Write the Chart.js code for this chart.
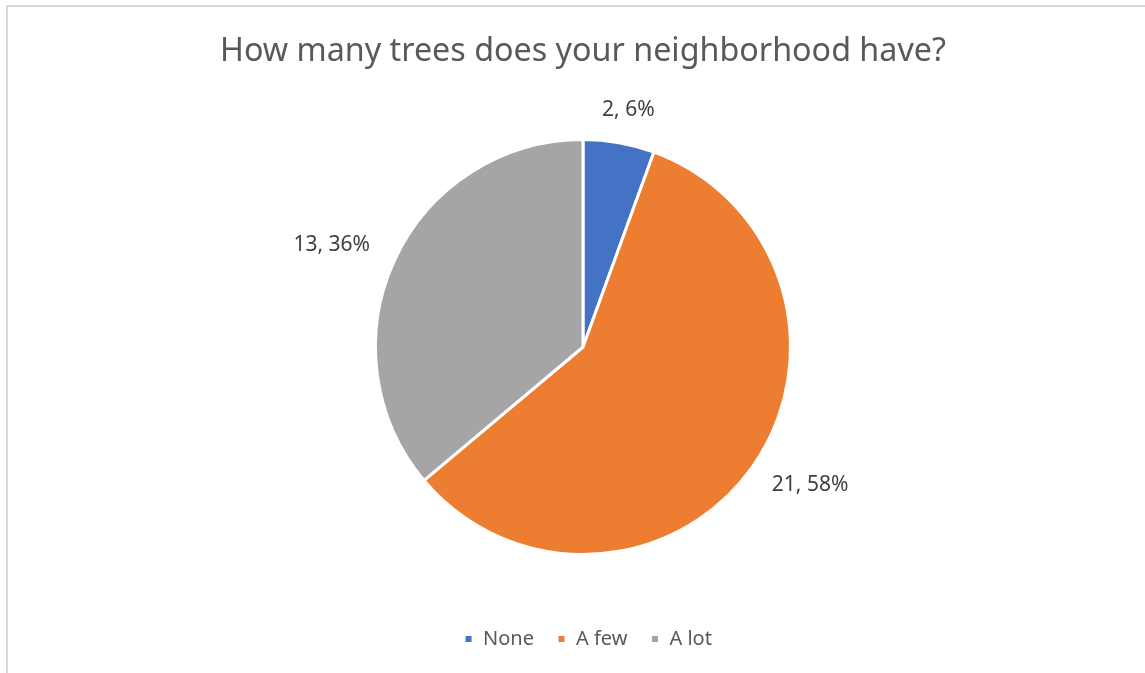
<!DOCTYPE html>
<html>
<head>
<meta charset="utf-8">
<script src="https://cdn.jsdelivr.net/npm/chart.js@4/dist/chart.umd.min.js"></script>
<style>
  html, body { margin: 0; padding: 0; background: #fff; overflow: hidden; }
  #frame { position: absolute; left: 6px; top: 5px; width: 1200px; height: 700px; border: 2px solid #d9d9d9; box-sizing: border-box; }
  #wrap { position: absolute; left: 0; top: 0; width: 1145px; height: 673px; }
</style>
</head>
<body>
<div id="frame"></div>
<div id="wrap"><canvas id="myChart"></canvas></div>
<script>
const categories = ['None', 'A few', 'A lot'];
const counts = [2, 21, 13];
const percentLabels = ['6%', '58%', '36%'];
const sliceColors = ['#4472C4', '#ED7D31', '#A5A5A5'];

// data labels outside the slices, like Excel's "best fit"
const outsideLabels = {
  id: 'outsideLabels',
  afterDatasetsDraw(chart) {
    const ctx = chart.ctx;
    const meta = chart.getDatasetMeta(0);
    ctx.save();
    ctx.font = '21px "Noto Sans"';
    ctx.fillStyle = '#404040';
    ctx.textAlign = 'center';
    ctx.textBaseline = 'middle';
    meta.data.forEach((arc, i) => {
      const p = arc.getProps(['x', 'y', 'startAngle', 'endAngle', 'outerRadius'], true);
      const mid = (p.startAngle + p.endAngle) / 2;
      const text = counts[i] + ', ' + percentLabels[i];
      const w = ctx.measureText(text).width;
      const h = 24;
      const cx = p.x + Math.cos(mid) * (p.outerRadius + 18 + 1.35 * w / 2);
      const cy = p.y + Math.sin(mid) * (p.outerRadius + 18 + 1.25 * h / 2);
      ctx.fillText(text, cx, cy);
    });
    ctx.restore();
  }
};

// legend sits a few px right of the pie centre in the original
const nudgeLegend = {
  id: 'nudgeLegend',
  afterLayout(chart) {
    chart.legend.left += 5;
    chart.legend.right += 5;
  }
};

var ctx = document.getElementById('myChart').getContext('2d');

var myChart = new Chart(ctx, {
  type: 'pie',
  data: {
    labels: categories,
    datasets: [{
      data: counts,
      backgroundColor: sliceColors,
      borderColor: '#ffffff',
      borderWidth: 3,
      hoverOffset: 0
    }]
  },
  options: {
    responsive: true,
    maintainAspectRatio: false,
    animation: false,
    layout: { padding: { left: 220, right: 199, top: 0, bottom: 14 } },
    plugins: {
      title: {
        display: true,
        text: 'How many trees does your neighborhood have?',
        color: '#595959',
        font: { family: '"Noto Sans"', size: 32.5, weight: 'normal' },
        padding: { top: 32, bottom: 67 }
      },
      legend: {
        position: 'bottom',
        title: {
          display: true,
          text: ' ',
          font: { size: 10 },
          padding: { top: 38, bottom: 0 }
        },
        labels: {
          color: '#595959',
          font: { family: '"Noto Sans"', size: 20 },
          boxWidth: 9,
          boxHeight: 9,
          padding: 23
        }
      },
      tooltip: { enabled: false }
    }
  },
  plugins: [outsideLabels, nudgeLegend]
});
</script>
</body>
</html>
